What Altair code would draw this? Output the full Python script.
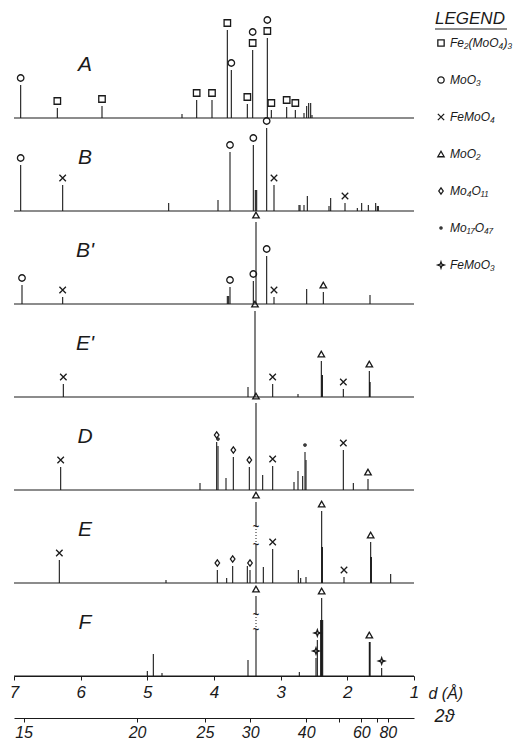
import altair as alt
import numpy as np
import pandas as pd

# ---------------- data ----------------
panels = ["A", "B", "B'", "E'", "D", "E", "F"]
panel_step = 93  # vertical stacking step between patterns

phase_codes = ["FM", "M3", "F4", "M2", "M4", "M17", "F3"]
phase_names = ["Fe₂(MoO₄)₃", "MoO₃", "FeMoO₄", "MoO₂", "Mo₄O₁₁", "Mo₁₇O₄₇", "FeMoO₃"]

# d (Å), relative intensity, phase marker(s)
A_d = [6.90, 6.35, 5.68, 4.48, 4.26, 4.03, 3.80, 3.74, 3.50, 3.42, 3.20, 3.14, 2.91, 2.78, 2.65, 2.61, 2.58, 2.55, 2.53]
A_I = [33, 10, 12, 4, 18, 18, 88, 48, 14, 68, 80, 8, 11, 8, 5, 12, 15, 15, 3]
A_m = ["M3", "FM", "FM", "", "FM", "FM", "FM", "M3", "FM", "FM+M3", "FM+M3", "FM", "FM", "FM", "", "", "", "", ""]

B_d = [6.90, 6.27, 4.68, 3.94, 3.76, 3.41, 3.38, 3.36, 3.21, 3.10, 2.725, 2.71, 2.65, 2.60, 2.275, 2.25, 2.035, 1.85, 1.785, 1.685, 1.575, 1.55, 1.535]
B_I = [46, 26, 8, 11, 59, 66, 21, 21, 83, 26, 6, 6, 6, 15, 5, 13, 8, 3, 8, 6, 8, 5, 5]
B_m = ["M3", "F4", "", "", "M3", "M3", "", "", "M3", "F4", "", "", "", "", "", "", "F4", "", "", "", "", "", ""]

Bp_d = [6.88, 6.27, 3.80, 3.78, 3.76, 3.41, 3.37, 3.21, 3.10, 2.61, 2.36, 1.66]
Bp_I = [19, 7, 8, 8, 17, 23, 82, 48, 7, 15, 12, 9]
Bp_m = ["M3", "F4", "", "", "M3", "M3", "M2", "M3", "F4", "", "M2", ""]

Ep_d = [6.26, 3.49, 3.385, 3.12, 2.74, 2.39, 2.38, 2.375, 2.06, 1.67, 1.665, 1.66]
Ep_I = [13, 10, 86, 13, 3, 36, 22, 22, 8, 26, 15, 15]
Ep_m = ["F4", "", "M2", "F4", "", "M2", "", "", "F4", "M2", "", ""]

D_d = [6.30, 4.21, 3.96, 3.94, 3.82, 3.71, 3.47, 3.37, 3.27, 3.12, 2.80, 2.74, 2.67, 2.635, 2.62, 2.06, 1.91, 1.69]
D_I = [23, 7, 48, 44, 12, 33, 23, 87, 15, 24, 8, 19, 14, 38, 30, 40, 7, 11]
D_m = ["F4", "", "M4", "M17", "", "M4", "M4", "M2", "", "F4", "", "", "", "M17", "", "F4", "", "M2"]

E_d = [6.32, 4.72, 3.95, 3.81, 3.72, 3.50, 3.46, 3.37, 3.26, 3.12, 2.735, 2.70, 2.62, 2.385, 2.38, 2.375, 2.05, 1.65, 1.645, 1.64, 1.35]
E_I = [23, 3, 13, 5, 17, 17, 13, 81, 16, 34, 13, 5, 6, 72, 36, 36, 6, 41, 26, 26, 9]
E_m = ["F4", "", "M4", "", "M4", "", "M4", "M2", "", "F4", "", "", "", "M2", "", "", "F4", "M2", "", "", ""]

F_d = [5.00, 4.91, 4.78, 3.49, 3.37, 2.72, 2.47, 2.45, 2.40, 2.39, 2.385, 2.38, 2.37, 1.67, 1.665, 1.66, 1.485]
F_I = [5, 22, 3, 16, 80, 4, 18, 36, 56, 56, 78, 56, 56, 34, 34, 34, 8]
F_m = ["", "", "", "", "M2", "", "F3", "F3", "", "", "M2", "", "", "M2", "", "", "F3"]

# broken (off-scale) lines: panel, d, lower and upper end of the break
brk_panel = ["E", "F"]
brk_d = [3.37, 3.37]
brk_lo = [38, 46]
brk_hi = [56, 61]

# 2-theta scale (Co K-alpha)
wavelength = 1.79
tt_vals = [15, 20, 25, 30, 40, 50, 60, 70, 80]
tt_hidden = [50, 70]
d_ticks = [7, 6, 5, 4, 3, 2, 1]

# ---------------- tables ----------------
series = {"A": (A_d, A_I, A_m), "B": (B_d, B_I, B_m), "B'": (Bp_d, Bp_I, Bp_m),
          "E'": (Ep_d, Ep_I, Ep_m), "D": (D_d, D_I, D_m), "E": (E_d, E_I, E_m),
          "F": (F_d, F_I, F_m)}

base_of = {p: (len(panels) - 1 - i) * panel_step for i, p in enumerate(panels)}

rows, mrows = [], []
for p in panels:
    ds, Is, ms = series[p]
    b = base_of[p]
    for d, I, m in zip(ds, Is, ms):
        rows.append(dict(panel=p, d=d, base=b, top=b + I))
        if m:
            for lvl, code in enumerate(m.split("+")):
                mrows.append(dict(panel=p, d=d, top=b + I, level=lvl,
                                  phase=phase_names[phase_codes.index(code)]))
peaks = pd.DataFrame(rows)
marks = pd.DataFrame(mrows)
panel_df = pd.DataFrame({"panel": panels, "base": [base_of[p] for p in panels]})
breaks = pd.DataFrame({"panel": brk_panel, "d": brk_d,
                       "lo": [base_of[p] + v for p, v in zip(brk_panel, brk_lo)],
                       "hi": [base_of[p] + v for p, v in zip(brk_panel, brk_hi)]})
tt_d = [wavelength / (2 * np.sin(np.radians(t / 2))) for t in tt_vals]
tt_df = pd.DataFrame({"d": tt_d})

# ---------------- chart ----------------
FONT = "Liberation Sans"
INK = "#1a1a1a"
W, H = 400, 668

xscale = alt.Scale(domain=[7, 1], nice=False, zero=False)
yscale = alt.Scale(domain=[0, H], nice=False, zero=False)
xaxis = alt.Axis(values=d_ticks, format="d", grid=False, tickSize=4, tickColor=INK,
                 domainColor=INK, labelFont=FONT, labelFontSize=17, labelFontStyle="italic",
                 labelColor=INK, labelPadding=4, labelFlush=False, labelOverlap=False,
                 title="d (Å)", titleFont=FONT, titleFontSize=16, titleFontStyle="italic",
                 titleFontWeight="normal", titleColor=INK, titleX=414, titleY=17,
                 titleAlign="left", titleBaseline="middle", titleAngle=0)


def X(field):
    return alt.X(field, type="quantitative", scale=xscale, axis=xaxis)


def Y(field):
    return alt.Y(field, type="quantitative", scale=yscale, axis=None)


baselines = alt.Chart(panel_df).mark_rule(color=INK, strokeWidth=1.2).encode(
    x=alt.X(datum=7, scale=xscale, axis=xaxis), x2=alt.X2(datum=1), y=Y("base"))

sticks = alt.Chart(peaks).mark_rule(color=INK, strokeWidth=1.1).encode(
    x=X("d"), y=Y("base"), y2=alt.Y2("top"))

shape_paths = [
    "square",
    "circle",
    "M-1,-1L1,1M-1,1L1,-1",
    "triangle-up",
    "M0,-1L0.7,0L0,1L-0.7,0Z",
    "M-0.35,0a0.35,0.35 0 1,0 0.7,0a0.35,0.35 0 1,0 -0.7,0Z",
    "M0,-1L0.25,-0.25L1,0L0.25,0.25L0,1L-0.25,0.25L-1,0L-0.25,-0.25Z",
]

legend = alt.Legend(title="LEGEND", orient="none", legendX=421, legendY=3,
                    titleFont=FONT, titleFontSize=17, titleFontStyle="italic",
                    titleFontWeight="normal", titleColor=INK, titlePadding=9,
                    labelFont=FONT, labelFontSize=12, labelFontStyle="italic",
                    labelColor=INK, labelOffset=3, rowPadding=25,
                    symbolSize=40, symbolStrokeColor=INK, symbolStrokeWidth=1.3,
                    symbolFillColor="transparent")

markers = alt.Chart(marks).transform_calculate(
    ym="datum.top + 7 + 11 * datum.level"
).mark_point(filled=False, color=INK, strokeWidth=1.3, size=42, opacity=1).encode(
    x=X("d"), y=Y("ym:Q"),
    shape=alt.Shape("phase:N", scale=alt.Scale(domain=phase_names, range=shape_paths),
                    legend=legend))

gap = alt.Chart(breaks).mark_rule(color="white", strokeWidth=4).encode(
    x=X("d"), y=Y("lo"), y2=alt.Y2("hi"))
dots = alt.Chart(breaks).mark_rule(color=INK, strokeWidth=1, strokeDash=[1, 2]).encode(
    x=X("d"), y=Y("lo"), y2=alt.Y2("hi"))
sq_lo = alt.Chart(breaks).mark_text(text="~", font=FONT, fontSize=11, fontWeight="bold",
                                    color=INK, baseline="middle").encode(x=X("d"), y=Y("lo"))
sq_hi = alt.Chart(breaks).mark_text(text="~", font=FONT, fontSize=11, fontWeight="bold",
                                    color=INK, baseline="middle").encode(x=X("d"), y=Y("hi"))

labels = alt.Chart(panel_df).transform_calculate(
    ly="datum.base + 53"
).mark_text(font=FONT, fontSize=21, fontStyle="italic", color=INK,
            align="center", baseline="middle").encode(
    x=alt.X(datum=5.935, scale=xscale, axis=xaxis), y=Y("ly:Q"), text="panel:N")

underline = alt.Chart(pd.DataFrame({"k": [0]})).mark_rule(color=INK, strokeWidth=1).encode(
    x=alt.value(421), x2=alt.value(493), y=alt.value(21))

inner = alt.layer(baselines, sticks, gap, dots, sq_lo, sq_hi, markers, labels, underline)

half = wavelength / 2
tt_expr = f"round(360 * asin({half} / datum.value) / PI)"
hidden = "[" + ",".join(str(v) for v in tt_hidden) + "]"
tt_axis = alt.Axis(orient="bottom", offset=42, values=tt_d,
                   labelExpr=f"indexof({hidden}, {tt_expr}) >= 0 ? '' : '' + {tt_expr}",
                   grid=False, tickSize=4, tickColor=INK, domainColor=INK,
                   labelFont=FONT, labelFontSize=16, labelFontStyle="italic",
                   labelColor=INK, labelPadding=2, labelFlush=False, labelOverlap=False,
                   title="2ϑ", titleFont=FONT, titleFontSize=18, titleFontStyle="italic",
                   titleFontWeight="normal", titleColor=INK, titleX=420, titleY=-2,
                   titleAlign="left", titleBaseline="middle", titleAngle=0)

tt_layer = alt.Chart(tt_df).mark_point(opacity=0).encode(
    x=alt.X("d:Q", scale=alt.Scale(domain=[7, 1], nice=False, zero=False), axis=tt_axis),
    y=alt.value(0))

chart = alt.layer(inner, tt_layer).resolve_scale(x="independent").properties(
    width=W, height=H,
    autosize=alt.AutoSizeParams(type="none"),
    padding={"left": 6, "top": 0, "right": 101, "bottom": 63},
).configure_view(stroke=None)

chart.save("out.html", embed_options={"renderer": "svg", "actions": False})
